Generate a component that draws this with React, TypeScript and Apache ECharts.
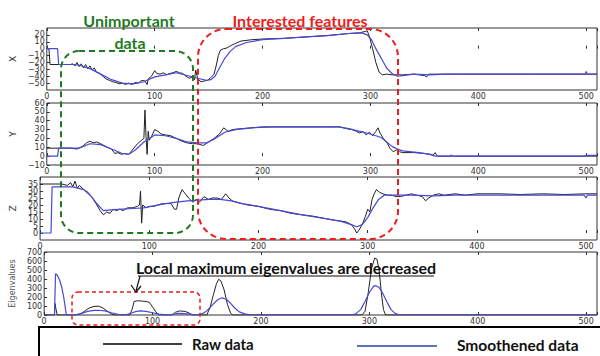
import React, { useEffect, useRef } from 'react';
import * as echarts from 'echarts';

// ---- data ----
const xTicks = [0, 100, 200, 300, 400, 500];

const xRaw = [[0,0],[2,0],[3,-23],[22,-23],[24,-22],[26,-25],[28,-20],[30,-26],[32,-22],[34,-28],[36,-23],[38,-29],[40,-25],[42,-31],[44,-28],[46,-34],[49,-36],[52,-40],[55,-44],[58,-46],[61,-48],[64,-49],[67,-51],[70,-50],[73,-52],[76,-50],[79,-52],[82,-49],[85,-50],[88,-46],[91,-47],[93,-52],[94,-44],[97,-40],[100,-32],[102,-36],[105,-37],[108,-35],[111,-38],[114,-36],[117,-35],[120,-33],[123,-35],[126,-36],[129,-40],[132,-43],[135,-41],[137,-45],[138,-31],[140,-44],[143,-48],[146,-47],[149,-46],[152,-42],[155,-37],[157,-25],[159,-10],[161,-2],[164,0],[167,1],[170,4],[174,7],[180,11],[190,13],[200,14],[220,15],[240,17],[260,19],[280,22],[290,23],[295,25],[297,26],[299,18],[302,0],[305,-20],[308,-34],[311,-38],[315,-37],[320,-38],[330,-38],[340,-37],[345,-38],[350,-39],[352,-41],[354,-37],[360,-37],[380,-37],[450,-37],[498,-37],[510,-37]];
const xSmooth = [[0,0],[10,0],[11,-23],[25,-23],[30,-24],[40,-29],[50,-37],[60,-45],[70,-50],[80,-51],[90,-48],[100,-41],[110,-38],[120,-35],[130,-39],[140,-43],[148,-46],[152,-45],[156,-40],[160,-28],[165,-14],[170,-4],[175,3],[185,9],[200,13],[220,15],[240,17],[260,19],[280,22],[292,23],[297,20],[301,13],[305,0],[310,-14],[315,-28],[320,-36],[325,-40],[330,-39],[340,-37],[355,-38],[370,-37],[499,-37],[500,-33],[501,-37],[510,-37]];

const yRaw = [[0,9],[22,9],[28,8],[33,11],[37,15],[40,17],[43,15],[46,16],[50,14],[53,12],[56,10],[60,8],[63,3],[66,4],[69,2],[72,3],[76,2],[80,8],[84,14],[88,18],[90,20],[91,52],[92,22],[93,2],[94,28],[95,18],[97,22],[100,30],[103,28],[106,25],[110,24],[115,23],[120,20],[125,17],[130,15],[135,14],[140,14],[145,12],[150,16],[155,20],[160,25],[164,32],[168,28],[172,30],[180,31],[200,33],[230,33],[260,33],[272,33],[278,31],[283,30],[287,28],[290,26],[293,28],[296,24],[299,27],[302,23],[305,28],[307,32],[309,26],[312,20],[315,16],[318,9],[321,5],[324,7],[327,5],[330,4],[340,4],[350,3],[356,2],[358,1],[360,4],[362,0],[374,0],[375,1.5],[376,0],[510,0]];
const ySmooth = [[0,0],[10,0],[11,9],[25,9],[30,9],[40,14],[50,13],[60,8],[70,3],[76,2],[82,7],[90,16],[100,24],[110,23],[120,20],[130,16],[140,15],[148,15],[155,19],[165,27],[175,30],[190,32],[210,33],[270,33],[280,31],[290,28],[300,25],[310,21],[315,16],[320,11],[325,8],[330,6],[345,4],[355,2],[360,0],[498,0],[500,0.8],[510,0.8]];

const zRaw = [[0,35],[20,35],[25,34],[28,36],[30,33],[32,37],[34,32],[36,34],[40,31],[44,29],[48,25],[52,20],[55,16],[58,13],[61,15],[64,14],[67,17],[70,16],[73,17],[76,16],[80,18],[85,18],[89,19],[91,20],[92,30],[93,7],[94,20],[97,18],[100,19],[104,19],[108,20],[112,21],[116,21],[120,21],[123,17],[125,17],[127,25],[130,31],[133,28],[136,25],[140,22],[143,24],[146,22],[150,26],[154,24],[158,25],[162,25],[166,24],[170,28],[173,25],[176,23],[180,22],[185,21],[190,20],[200,19],[210,17],[220,16],[230,14],[240,13],[250,12],[260,10.5],[270,9],[280,8],[285,6],[288,3],[290,0],[292,2],[295,6],[298,12],[300,17],[302,15],[304,24],[306,28],[308,31],[311,29],[314,28],[318,27],[322,27],[326,26],[330,26],[335,27],[340,28],[345,27],[350,26],[353,23],[356,25],[360,27],[365,28],[370,27],[380,28],[390,27],[400,28],[420,28],[440,27.5],[460,28],[480,27.5],[500,28],[510,28]];
const zSmooth = [[0,0],[10,0],[11,33],[25,33],[30,33],[40,31],[47,26],[53,20],[58,16],[65,16.5],[75,17],[85,17.5],[95,18],[105,19.5],[115,21],[125,22],[135,23],[145,23.5],[155,24],[165,24],[175,23],[185,21],[200,19],[220,16],[240,13],[260,10.5],[275,8.5],[285,6],[290,4.5],[295,6],[300,11],[305,18],[310,24],[315,27],[320,27],[340,27],[360,26.5],[380,27],[498,27],[500,25],[501,27],[510,27]];

const eRaw = [[0,0],[9.5,0],[10,128],[11,60],[12,0],[30,0],[34,15],[38,50],[42,80],[46,95],[50,98],[54,80],[58,45],[62,12],[65,0],[79,0],[81,60],[83,150],[86,158],[90,155],[94,150],[97,140],[100,90],[103,35],[106,0],[118,0],[121,30],[125,45],[130,40],[134,20],[137,0],[150,0],[153,80],[156,220],[159,350],[161,397],[163,380],[166,280],[169,120],[172,20],[174,0],[293,0],[296,40],[299,250],[302,520],[305,633],[307,620],[309,500],[311,250],[313,60],[315,0],[510,0]];
const eSmooth = [[0,0],[9.5,0],[10.5,457],[12,445],[14,395],[16,320],[18,200],[19.5,80],[20.5,0],[28,0],[34,15],[40,40],[46,52],[50,53],[56,45],[62,25],[68,8],[72,0],[76,5],[80,20],[85,40],[89,45],[94,40],[100,25],[106,10],[112,2],[118,8],[124,18],[130,15],[136,6],[142,5],[146,15],[150,45],[155,110],[160,170],[164,191],[168,175],[172,130],[176,75],[180,35],[185,12],[190,3],[195,0],[282,0],[287,10],[292,60],[296,150],[300,250],[304,320],[306,326],[309,305],[312,250],[316,150],[320,60],[324,15],[328,3],[332,0],[510,0]];

const panelNames = ['X', 'Y', 'Z', 'Eigenvalues'];
const yMins = [-60, -10, -5, 0];
const yMaxs = [30, 60, 40, 700];
const yIntervals = [10, 10, 5, 100];
const rawSeries = [xRaw, yRaw, zRaw, eRaw];
const smoothSeries = [xSmooth, ySmooth, zSmooth, eSmooth];

const legendLabels = ['Raw data', 'Smoothened data'];
const annotationTexts = {
  unimportant1: 'Unimportant',
  unimportant2: 'data',
  interested: 'Interested features',
  local: 'Local maximum eigenvalues are decreased',
};

// ---- layout ----
const tops = [28, 103, 177, 252];
const heights = [62, 62, 63, 63];
const LEFT = 39;
const WIDTH = 564;
const XMAX = 510;

const RAW_COLOR = '#222222';
const SMOOTH_COLOR = '#4848d8';
const GREEN = '#1f7a1f';
const RED = '#ee1c1c';
const FONT = 'Lato, "Open Sans", sans-serif';
const AXFONT = '"DejaVu Sans", sans-serif';

const minus = (v: number) => String(v).replace('-', '\u2212');

export default function App() {
  const ref = useRef<HTMLDivElement>(null);
  useEffect(() => {
    if (!ref.current) return;
    const chart = echarts.init(ref.current, null, { renderer: 'svg' });

    const grid = tops.map((t, i) => ({
      left: LEFT, top: t, width: WIDTH, height: heights[i],
      show: true, borderColor: '#333', borderWidth: 1, backgroundColor: 'transparent',
    }));
    const xAxis: any[] = [];
    tops.forEach((_, i) => {
      xAxis.push({
        type: 'value', gridIndex: i, min: 0, max: XMAX, interval: 100, position: 'bottom',
        axisLine: { show: false },
        axisTick: { show: true, inside: true, length: 3, lineStyle: { color: '#333' } },
        splitLine: { show: false },
        axisLabel: {
          fontSize: 8, color: '#333', fontFamily: AXFONT, margin: 2,
          formatter: (v: number) => (xTicks.includes(v) ? String(v) : ''),
        },
      });
    });
    tops.forEach((_, i) => {
      xAxis.push({
        type: 'value', gridIndex: i, min: 0, max: XMAX, interval: 100, position: 'top',
        axisLine: { show: false },
        axisTick: { show: true, inside: true, length: 3, lineStyle: { color: '#333' } },
        splitLine: { show: false },
        axisLabel: { show: false },
      });
    });
    const yAxis = tops.map((_, i) => ({
      type: 'value', gridIndex: i, min: yMins[i], max: yMaxs[i], interval: yIntervals[i],
      name: panelNames[i], nameLocation: 'middle', nameRotate: 90,
      nameGap: i === 3 ? 25 : 23,
      nameTextStyle: {
        fontSize: i === 3 ? 8 : 9, color: i === 3 ? '#555' : '#333', fontFamily: AXFONT,
      },
      axisLine: { show: false },
      axisTick: { show: true, inside: true, length: 3, lineStyle: { color: '#333' } },
      splitLine: { show: false },
      axisLabel: {
        fontSize: 8, color: '#333', fontFamily: AXFONT, margin: 2,
        formatter: (v: number) => minus(v),
      },
    }));
    const series: any[] = [];
    tops.forEach((_, i) => {
      series.push({
        type: 'line', xAxisIndex: i, yAxisIndex: i, data: rawSeries[i],
        showSymbol: false, symbol: 'none', lineStyle: { color: RAW_COLOR, width: 1 }, z: 2,
      });
      series.push({
        type: 'line', xAxisIndex: i, yAxisIndex: i, data: smoothSeries[i],
        showSymbol: false, symbol: 'none', lineStyle: { color: SMOOTH_COLOR, width: 1.2 }, z: 3,
      });
    });

    const graphic: any[] = [
      { type: 'rect', z: 100, shape: { x: 61, y: 51, width: 132, height: 182, r: 18 },
        style: { fill: 'none', stroke: GREEN, lineWidth: 2, lineDash: [6, 4] } },
      { type: 'rect', z: 100, shape: { x: 198, y: 29, width: 200, height: 210, r: 28 },
        style: { fill: 'none', stroke: RED, lineWidth: 2, lineDash: [6, 4] } },
      { type: 'rect', z: 100, shape: { x: 72, y: 292, width: 128, height: 33, r: 6 },
        style: { fill: 'none', stroke: RED, lineWidth: 1.5, lineDash: [4, 3] } },
      { type: 'text', z: 100, x: 129, y: 20,
        style: { text: annotationTexts.unimportant1, fill: GREEN, font: `bold 16px ${FONT}`, align: 'center', verticalAlign: 'middle' } },
      { type: 'text', z: 100, x: 130, y: 42,
        style: { text: annotationTexts.unimportant2, fill: GREEN, font: `bold 16px ${FONT}`, align: 'center', verticalAlign: 'middle' } },
      { type: 'text', z: 100, x: 300, y: 20,
        style: { text: annotationTexts.interested, fill: RED, font: `bold 16px ${FONT}`, align: 'center', verticalAlign: 'middle' } },
      { type: 'text', z: 100, x: 286, y: 267,
        style: { text: annotationTexts.local, fill: '#111', font: `bold 16px ${FONT}`, align: 'center', verticalAlign: 'middle' } },
      { type: 'line', z: 100, shape: { x1: 138, y1: 276, x2: 434, y2: 276 }, style: { stroke: '#111', lineWidth: 1.2 } },
      { type: 'line', z: 100, shape: { x1: 140, y1: 276, x2: 136, y2: 291 }, style: { stroke: '#111', lineWidth: 1.2 } },
      { type: 'polyline', z: 100, shape: { points: [[131, 285], [136, 292], [141, 286]] }, style: { stroke: '#111', lineWidth: 1.2, fill: 'none' } },
      { type: 'rect', z: 100, shape: { x: 39, y: 327, width: 600, height: 60 },
        style: { fill: '#fff', stroke: '#000', lineWidth: 2 } },
      { type: 'line', z: 101, shape: { x1: 103, y1: 344, x2: 182, y2: 344 }, style: { stroke: '#000', lineWidth: 1.5 } },
      { type: 'text', z: 101, x: 192, y: 344,
        style: { text: legendLabels[0], fill: '#111', font: `bold 15px ${FONT}`, align: 'left', verticalAlign: 'middle' } },
      { type: 'line', z: 101, shape: { x1: 357, y1: 346, x2: 437, y2: 346 }, style: { stroke: '#2a45a8', lineWidth: 1.5 } },
      { type: 'text', z: 101, x: 457, y: 345,
        style: { text: legendLabels[1], fill: '#111', font: `bold 15.5px ${FONT}`, align: 'left', verticalAlign: 'middle' } },
    ];

    chart.setOption({
      animation: false,
      backgroundColor: '#fff',
      grid, xAxis, yAxis, series, graphic,
    });
    return () => chart.dispose();
  }, []);
  return <div ref={ref} style={{ width: 600, height: 356, position: 'fixed', left: 0, top: 0 }} />;
}
